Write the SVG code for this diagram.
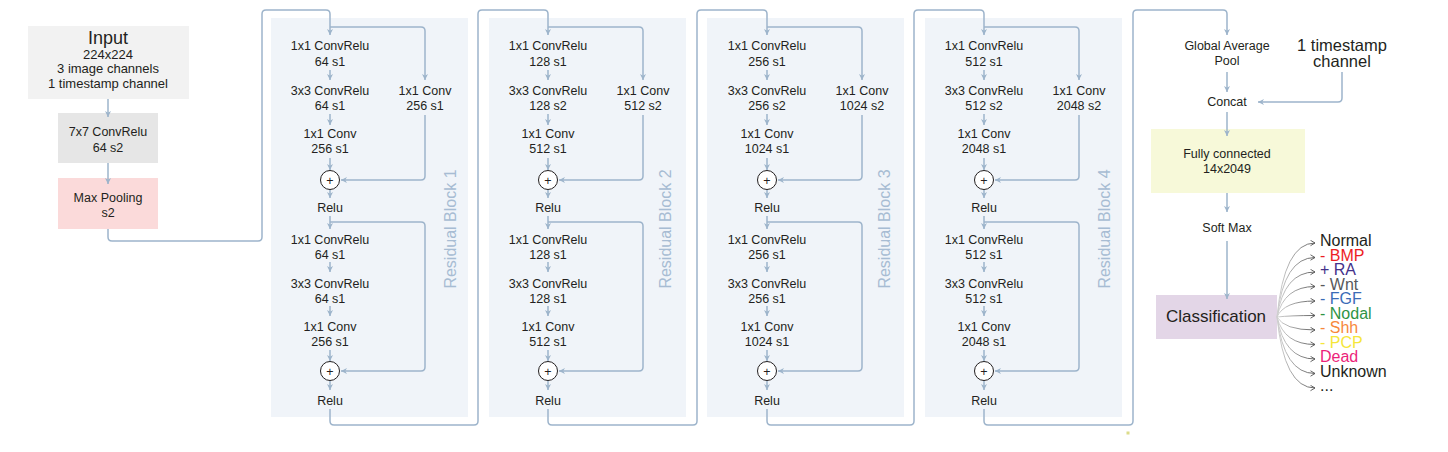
<svg xmlns="http://www.w3.org/2000/svg" width="1448" height="452" viewBox="0 0 1448 452">
<defs>
<marker id="ah" markerUnits="userSpaceOnUse" markerWidth="7" markerHeight="7" refX="6" refY="3.5" orient="auto">
<path d="M0,0.5 L6,3.5 L0,6.5 L1.8,3.5 z" fill="#9db4cb"/>
</marker>
<marker id="fa" markerUnits="userSpaceOnUse" markerWidth="7" markerHeight="7" refX="5.5" refY="3.5" orient="auto">
<path d="M1,0.8 L5.5,3.5 L1,6.2" fill="none" stroke="#555" stroke-width="0.9"/>
</marker>
<linearGradient id="fg" gradientUnits="userSpaceOnUse" x1="1277" y1="0" x2="1316" y2="0">
<stop offset="0" stop-color="#d0d0d0"/>
<stop offset="1" stop-color="#4a4a4a"/>
</linearGradient>
</defs>
<style>
text{font-family:"Liberation Sans",Arial,sans-serif;fill:#231f20;text-anchor:middle}
.t{font-size:12.5px}
.s{font-size:13px}
.bl{font-size:16px;fill:#a7bcd3}
.lab{font-size:16px;text-anchor:start}
.panel{fill:#f0f4f9}
.c{fill:none;stroke:#9db4cb;stroke-width:1.5;stroke-linejoin:round}
.a{marker-end:url(#ah)}
.sum{fill:#ffffff;stroke:#231f20;stroke-width:1}
.fan{fill:none;stroke:url(#fg);stroke-width:0.9;marker-end:url(#fa)}
</style>
<rect width="1448" height="452" fill="#ffffff"/>

<g id="input">
<rect x="28" y="26" width="161" height="73" fill="#f2f2f2"/>
<text x="108" y="44" style="font-size:18px">Input</text>
<text class="s" x="108" y="58.5">224x224</text>
<text class="s" x="108" y="73">3 image channels</text>
<text class="s" x="108" y="88">1 timestamp channel</text>
</g>
<g id="conv7">
<rect x="58" y="113" width="100" height="50" fill="#e6e6e6"/>
<text class="t" x="108" y="136">7x7 ConvRelu</text>
<text class="t" x="108" y="151.5">64 s2</text>
</g>
<g id="maxpool">
<rect x="58" y="178" width="100" height="51" fill="#fbdada"/>
<text class="t" x="108" y="201.5">Max Pooling</text>
<text class="t" x="108" y="216.5">s2</text>
</g>

<g id="block1">
<rect class="panel" x="271" y="18" width="197" height="399"/>
<text class="bl" transform="translate(456,229) rotate(-90)">Residual Block 1</text>
<text class="t" x="330" y="50">1x1 ConvRelu</text><text class="t" x="330" y="65.5">64 s1</text>
<text class="t" x="330" y="95">3x3 ConvRelu</text><text class="t" x="330" y="110">64 s1</text>
<text class="t" x="330" y="137.5">1x1 Conv</text><text class="t" x="330" y="153">256 s1</text>
<text class="t" x="425" y="95">1x1 Conv</text><text class="t" x="425" y="110">256 s1</text>
<circle class="sum" cx="330" cy="180" r="9.5"/><text class="t" x="330" y="184.5">+</text>
<text class="t" x="330" y="212">Relu</text>
<text class="t" x="330" y="243.5">1x1 ConvRelu</text><text class="t" x="330" y="258.5">64 s1</text>
<text class="t" x="330" y="287.5">3x3 ConvRelu</text><text class="t" x="330" y="302.5">64 s1</text>
<text class="t" x="330" y="330.5">1x1 Conv</text><text class="t" x="330" y="345.5">256 s1</text>
<circle class="sum" cx="330" cy="371" r="9.5"/><text class="t" x="330" y="375.5">+</text>
<text class="t" x="330" y="405">Relu</text>
</g>

<g id="block2" transform="translate(218,0)">
<rect class="panel" x="271" y="18" width="197" height="399"/>
<text class="bl" transform="translate(453,229) rotate(-90)">Residual Block 2</text>
<text class="t" x="330" y="50">1x1 ConvRelu</text><text class="t" x="330" y="65.5">128 s1</text>
<text class="t" x="330" y="95">3x3 ConvRelu</text><text class="t" x="330" y="110">128 s2</text>
<text class="t" x="330" y="137.5">1x1 Conv</text><text class="t" x="330" y="153">512 s1</text>
<text class="t" x="425" y="95">1x1 Conv</text><text class="t" x="425" y="110">512 s2</text>
<circle class="sum" cx="330" cy="180" r="9.5"/><text class="t" x="330" y="184.5">+</text>
<text class="t" x="330" y="212">Relu</text>
<text class="t" x="330" y="243.5">1x1 ConvRelu</text><text class="t" x="330" y="258.5">128 s1</text>
<text class="t" x="330" y="287.5">3x3 ConvRelu</text><text class="t" x="330" y="302.5">128 s1</text>
<text class="t" x="330" y="330.5">1x1 Conv</text><text class="t" x="330" y="345.5">512 s1</text>
<circle class="sum" cx="330" cy="371" r="9.5"/><text class="t" x="330" y="375.5">+</text>
<text class="t" x="330" y="405">Relu</text>
</g>

<g id="block3" transform="translate(437,0)">
<rect class="panel" x="270" y="18" width="197" height="399"/>
<text class="bl" transform="translate(453,229) rotate(-90)">Residual Block 3</text>
<text class="t" x="330" y="50">1x1 ConvRelu</text><text class="t" x="330" y="65.5">256 s1</text>
<text class="t" x="330" y="95">3x3 ConvRelu</text><text class="t" x="330" y="110">256 s2</text>
<text class="t" x="330" y="137.5">1x1 Conv</text><text class="t" x="330" y="153">1024 s1</text>
<text class="t" x="425" y="95">1x1 Conv</text><text class="t" x="425" y="110">1024 s2</text>
<circle class="sum" cx="330" cy="180" r="9.5"/><text class="t" x="330" y="184.5">+</text>
<text class="t" x="330" y="212">Relu</text>
<text class="t" x="330" y="243.5">1x1 ConvRelu</text><text class="t" x="330" y="258.5">256 s1</text>
<text class="t" x="330" y="287.5">3x3 ConvRelu</text><text class="t" x="330" y="302.5">256 s1</text>
<text class="t" x="330" y="330.5">1x1 Conv</text><text class="t" x="330" y="345.5">1024 s1</text>
<circle class="sum" cx="330" cy="371" r="9.5"/><text class="t" x="330" y="375.5">+</text>
<text class="t" x="330" y="405">Relu</text>
</g>

<g id="block4" transform="translate(654,0)">
<rect class="panel" x="271" y="18" width="197" height="399"/>
<text class="bl" transform="translate(456,229) rotate(-90)">Residual Block 4</text>
<text class="t" x="330" y="50">1x1 ConvRelu</text><text class="t" x="330" y="65.5">512 s1</text>
<text class="t" x="330" y="95">3x3 ConvRelu</text><text class="t" x="330" y="110">512 s2</text>
<text class="t" x="330" y="137.5">1x1 Conv</text><text class="t" x="330" y="153">2048 s1</text>
<text class="t" x="425" y="95">1x1 Conv</text><text class="t" x="425" y="110">2048 s2</text>
<circle class="sum" cx="330" cy="180" r="9.5"/><text class="t" x="330" y="184.5">+</text>
<text class="t" x="330" y="212">Relu</text>
<text class="t" x="330" y="243.5">1x1 ConvRelu</text><text class="t" x="330" y="258.5">512 s1</text>
<text class="t" x="330" y="287.5">3x3 ConvRelu</text><text class="t" x="330" y="302.5">512 s1</text>
<text class="t" x="330" y="330.5">1x1 Conv</text><text class="t" x="330" y="345.5">2048 s1</text>
<circle class="sum" cx="330" cy="371" r="9.5"/><text class="t" x="330" y="375.5">+</text>
<text class="t" x="330" y="405">Relu</text>
</g>

<g id="gap"><text class="t" x="1227" y="49.5">Global Average</text><text class="t" x="1227" y="64.5">Pool</text></g>
<g id="timestamp"><text x="1342" y="50.5" style="font-size:16.5px">1 timestamp</text><text x="1342" y="66.5" style="font-size:16.5px">channel</text></g>
<g id="concat"><text class="t" x="1227" y="106">Concat</text></g>
<g id="fc">
<rect x="1151" y="129" width="154" height="64" fill="#f7f9d9"/>
<text class="t" x="1227" y="158">Fully connected</text>
<text class="t" x="1227" y="172.5">14x2049</text>
</g>
<g id="softmax"><text class="t" x="1227" y="232">Soft Max</text></g>
<g id="classification">
<rect x="1156" y="295" width="121" height="44" fill="#e3d6e7"/>
<text x="1216" y="322" style="font-size:17px">Classification</text>
</g>
<g id="labels">
<text class="lab" x="1320" y="246" style="fill:#231f20">Normal</text>
<text class="lab" x="1320" y="260.5" style="fill:#ed1c24">- BMP</text>
<text class="lab" x="1320" y="275" style="fill:#44318a">+ RA</text>
<text class="lab" x="1320" y="289.5" style="fill:#58595b">- Wnt</text>
<text class="lab" x="1320" y="304" style="fill:#3b6cb7">- FGF</text>
<text class="lab" x="1320" y="318.5" style="fill:#2e9444">- Nodal</text>
<text class="lab" x="1320" y="333" style="fill:#f7883b">- Shh</text>
<text class="lab" x="1320" y="347.5" style="fill:#f5e63a">- PCP</text>
<text class="lab" x="1320" y="362" style="fill:#ec1f7a">Dead</text>
<text class="lab" x="1320" y="376.5" style="fill:#231f20">Unknown</text>
<text class="lab" x="1320" y="391" style="fill:#231f20">...</text>
</g>
<rect x="1126.5" y="431.5" width="3" height="3" fill="#dcdc8a"/>

<g id="connectors">
<path class="c a" d="M108,99 V117"/>
<path class="c a" d="M108,163 V184"/>
<path class="c a" d="M108,229 V237 Q108,241 112,241 H258 Q262,241 262,237 V14 Q262,10 266,10 H326 Q330,10 330,14 V35"/>
<g id="conn-b1">
<path class="c a" d="M330,27 H421 Q425,27 425,31 V80"/>
<path class="c a" d="M330,70 V80"/>
<path class="c a" d="M330,114 V125"/>
<path class="c a" d="M330,158 V170"/>
<path class="c a" d="M425,115 V176 Q425,180 421,180 H341"/>
<path class="c a" d="M330,190 V198"/>
<path class="c a" d="M330,216 V229"/>
<path class="c a" d="M330,222 H421 Q425,222 425,226 V367 Q425,371 421,371 H341"/>
<path class="c a" d="M330,262 V272"/>
<path class="c a" d="M330,306 V316"/>
<path class="c a" d="M330,350 V361"/>
<path class="c a" d="M330,381 V390"/>
</g>
<g id="conn-b2" transform="translate(218,0)">
<path class="c a" d="M330,27 H421 Q425,27 425,31 V80"/>
<path class="c a" d="M330,70 V80"/>
<path class="c a" d="M330,114 V125"/>
<path class="c a" d="M330,158 V170"/>
<path class="c a" d="M425,115 V176 Q425,180 421,180 H341"/>
<path class="c a" d="M330,190 V198"/>
<path class="c a" d="M330,216 V229"/>
<path class="c a" d="M330,222 H421 Q425,222 425,226 V367 Q425,371 421,371 H341"/>
<path class="c a" d="M330,262 V272"/>
<path class="c a" d="M330,306 V316"/>
<path class="c a" d="M330,350 V361"/>
<path class="c a" d="M330,381 V390"/>
</g>
<g id="conn-b3" transform="translate(437,0)">
<path class="c a" d="M330,27 H421 Q425,27 425,31 V80"/>
<path class="c a" d="M330,70 V80"/>
<path class="c a" d="M330,114 V125"/>
<path class="c a" d="M330,158 V170"/>
<path class="c a" d="M425,115 V176 Q425,180 421,180 H341"/>
<path class="c a" d="M330,190 V198"/>
<path class="c a" d="M330,216 V229"/>
<path class="c a" d="M330,222 H421 Q425,222 425,226 V367 Q425,371 421,371 H341"/>
<path class="c a" d="M330,262 V272"/>
<path class="c a" d="M330,306 V316"/>
<path class="c a" d="M330,350 V361"/>
<path class="c a" d="M330,381 V390"/>
</g>
<g id="conn-b4" transform="translate(654,0)">
<path class="c a" d="M330,27 H421 Q425,27 425,31 V80"/>
<path class="c a" d="M330,70 V80"/>
<path class="c a" d="M330,114 V125"/>
<path class="c a" d="M330,158 V170"/>
<path class="c a" d="M425,115 V176 Q425,180 421,180 H341"/>
<path class="c a" d="M330,190 V198"/>
<path class="c a" d="M330,216 V229"/>
<path class="c a" d="M330,222 H421 Q425,222 425,226 V367 Q425,371 421,371 H341"/>
<path class="c a" d="M330,262 V272"/>
<path class="c a" d="M330,306 V316"/>
<path class="c a" d="M330,350 V361"/>
<path class="c a" d="M330,381 V390"/>
</g>
<path class="c a" d="M330,409 V421 Q330,425 334,425 H474 Q478,425 478,421 V14 Q478,10 482,10 H544 Q548,10 548,14 V35"/>
<path class="c a" d="M548,409 V421 Q548,425 552,425 H693 Q697,425 697,421 V14 Q697,10 701,10 H763 Q767,10 767,14 V35"/>
<path class="c a" d="M767,409 V421 Q767,425 771,425 H910 Q914,425 914,421 V14 Q914,10 918,10 H980 Q984,10 984,14 V35"/>
<path class="c a" d="M984,409 V421 Q984,425 988,425 H1129 Q1133,425 1133,421 V14 Q1133,10 1137,10 H1223 Q1227,10 1227,14 V35"/>
<path class="c a" d="M1227,72 V92"/>
<path class="c a" d="M1342,72 V98 Q1342,102 1338,102 H1258"/>
<path class="c a" d="M1227,112 V136"/>
<path class="c a" d="M1227,193 V212"/>
<path class="c a" d="M1227,241 V299"/>
<g id="fan">
<path class="fan" d="M1277,317 Q1284,243 1315,243"/>
<path class="fan" d="M1277,317 Q1284,257.5 1315,257.5"/>
<path class="fan" d="M1277,317 Q1284,272 1315,272"/>
<path class="fan" d="M1277,317 Q1284,286.5 1315,286.5"/>
<path class="fan" d="M1277,317 Q1284,301 1315,301"/>
<path class="fan" d="M1277,317 Q1290,315.5 1315,315.5"/>
<path class="fan" d="M1277,317 Q1284,330 1315,330"/>
<path class="fan" d="M1277,317 Q1284,344.5 1315,344.5"/>
<path class="fan" d="M1277,317 Q1284,359 1315,359"/>
<path class="fan" d="M1277,317 Q1284,373.5 1315,373.5"/>
<path class="fan" d="M1277,317 Q1284,388 1315,388"/>
</g>
</g>
</svg>
